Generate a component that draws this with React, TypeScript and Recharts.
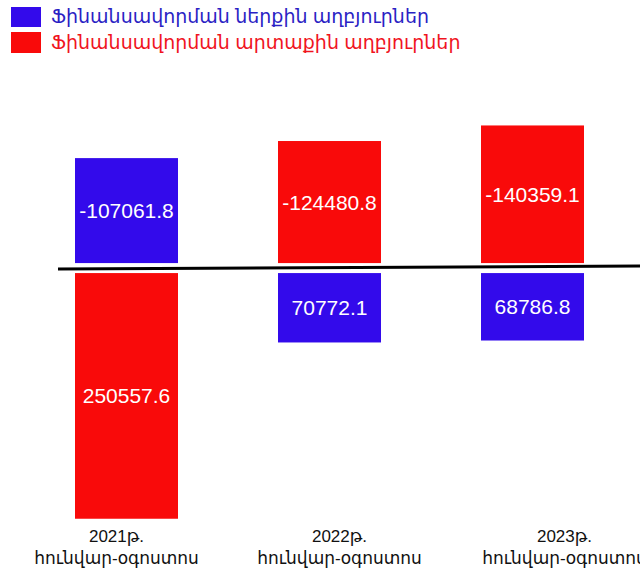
import React from "react";
import { BarChart, Bar, XAxis, YAxis, LabelList, ReferenceLine, Legend } from "recharts";

const years = ["2021թ.", "2022թ.", "2023թ."];
const periodLabel = "հունվար-օգոստոս";
const internalValues = [-107061.8, 70772.1, 68786.8];
const externalValues = [250557.6, -124480.8, -140359.1];
const seriesNames = {
  internal: "Ֆինանսավորման ներքին աղբյուրներ",
  external: "Ֆինանսավորման արտաքին աղբյուրներ",
};

const data = years.map((y, i) => ({
  year: y,
  internal: internalValues[i],
  external: externalValues[i],
}));

const BLUE = "#330AEB";
const RED = "#F90A0A";
const FONT = "Arial, 'Liberation Sans', 'DejaVu Sans', sans-serif";
const GAP = 5;
const tickShift = [-10, 10, 32];

const makeShape = (key: "internal" | "external", fill: string) => (props: any) => {
  const { x, y, width, height, payload } = props;
  const top = Math.min(y, y + height);
  const h = Math.abs(height);
  const v = payload[key];
  const ty = v < 0 ? top - GAP : top + GAP;
  return <rect x={x} y={ty} width={width} height={h} fill={fill} />;
};

const makeLabel = (key: "internal" | "external") => (props: any) => {
  const { x, y, width, height, value } = props;
  const top = Math.min(y, y + height);
  const h = Math.abs(height);
  const ty = value < 0 ? top - GAP : top + GAP;
  return (
    <text
      x={x + width / 2}
      y={ty + h / 2}
      textAnchor="middle"
      dominantBaseline="central"
      fill="#fff"
      fontSize={21}
      fontFamily={FONT}
    >
      {Number(value).toFixed(1)}
    </text>
  );
};

const Tick = (props: any) => {
  const { x, y, payload, index } = props;
  const cx = x + (tickShift[index] || 0);
  return (
    <text x={cx} y={y} textAnchor="middle" fontFamily={FONT} fontSize={17} fill="#111">
      <tspan x={cx} dy={11}>{payload.value}</tspan>
      <tspan x={cx} dy={22}>{periodLabel}</tspan>
    </text>
  );
};

const LegendContent = () => (
  <div style={{ position: "relative", width: 480, height: 60, fontFamily: FONT }}>
    <div style={{ position: "absolute", left: 11, top: 7, width: 30, height: 20, background: BLUE }} />
    <div style={{ position: "absolute", left: 51, top: 4, fontSize: 19, lineHeight: "26px", color: "#2B1FC4", whiteSpace: "nowrap" }}>
      {seriesNames.internal}
    </div>
    <div style={{ position: "absolute", left: 11, top: 32, width: 30, height: 21, background: RED }} />
    <div style={{ position: "absolute", left: 51, top: 30, fontSize: 19, lineHeight: "26px", color: "#F0141E", whiteSpace: "nowrap" }}>
      {seriesNames.external}
    </div>
  </div>
);

const ZeroLine = (props: any) => {
  const { x1, y1, x2, y2 } = props;
  return <line x1={x1 + 33} y1={y1 + 1} x2={x2 + 6} y2={y2 - 2} stroke="#000" strokeWidth={3} />;
};

export default function App() {
  return (
    <div style={{ position: "absolute", left: 0, top: 0, width: 640, height: 571, background: "#fff" }}>
      <BarChart
        width={640}
        height={571}
        data={data}
        stackOffset="sign"
        margin={{ top: 121, right: 6, left: 25, bottom: 0 }}
      >
        <XAxis dataKey="year" axisLine={false} tickLine={false} height={48} tick={<Tick />} interval={0} />
        <YAxis hide reversed domain={[-150000, 260000]} type="number" allowDataOverflow />
        <Legend
          layout="vertical"
          align="center"
          verticalAlign="middle"
          content={<LegendContent />}
          wrapperStyle={{ position: "absolute", top: 0, left: 0, width: 480 }}
        />
        <Bar dataKey="internal" stackId="a" fill={BLUE} barSize={103} shape={makeShape("internal", BLUE)} isAnimationActive={false}>
          <LabelList dataKey="internal" content={makeLabel("internal")} />
        </Bar>
        <Bar dataKey="external" stackId="a" fill={RED} barSize={103} shape={makeShape("external", RED)} isAnimationActive={false}>
          <LabelList dataKey="external" content={makeLabel("external")} />
        </Bar>
        <ReferenceLine y={0} shape={ZeroLine} />
      </BarChart>
    </div>
  );
}
